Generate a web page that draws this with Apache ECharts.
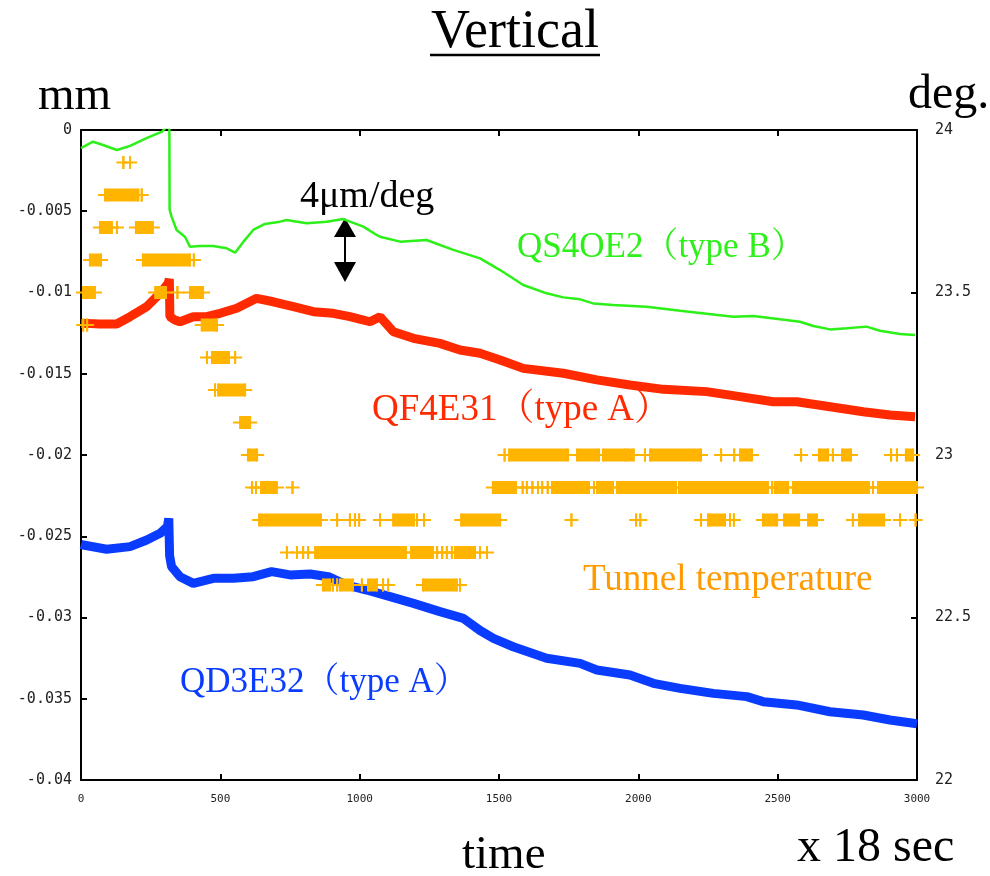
<!DOCTYPE html>
<html>
<head>
<meta charset="utf-8">
<script src="https://cdn.jsdelivr.net/npm/echarts@6/dist/echarts.min.js"></script>
<style>
  html, body { margin: 0; padding: 0; background: #fff; }
  #chart { width: 990px; height: 876px; }
</style>
</head>
<body>
<div id="chart"></div>
<script>
// ---- Tick labels ----
const leftTickLabels = ['0', '-0.005', '-0.01', '-0.015', '-0.02', '-0.025', '-0.03', '-0.035', '-0.04'];
const rightTickLabels = ['22', '22.5', '23', '23.5', '24'];
const bottomTickLabels = ['0', '500', '1000', '1500', '2000', '2500', '3000'];

// ---- QS4OE2 (type B): time (x18 sec) and vertical position (mm) ----
const qs4oe2Time = [0, 43, 79, 129, 176, 237, 291, 312, 317, 318, 325, 343, 373, 391, 427, 474, 523, 553, 583, 618, 660, 714, 738, 810, 882, 941, 1013, 1061, 1073, 1145, 1240, 1336, 1432, 1504, 1587, 1671, 1731, 1791, 1838, 1910, 2030, 2150, 2269, 2341, 2413, 2508, 2580, 2628, 2688, 2748, 2819, 2867, 2939, 2993];
const qs4oe2Mm = [-0.00111, -0.00072, -0.00092, -0.00123, -0.00098, -0.00049, -0.0001, 0.0003, 0.0005, -0.0049, -0.00533, -0.00615, -0.00657, -0.00718, -0.00714, -0.00714, -0.00728, -0.00755, -0.00687, -0.00615, -0.00578, -0.00564, -0.00554, -0.00574, -0.00564, -0.00548, -0.00595, -0.00646, -0.00657, -0.00687, -0.00677, -0.00738, -0.0079, -0.00862, -0.00954, -0.01005, -0.0103, -0.01042, -0.01067, -0.01077, -0.01087, -0.01112, -0.01135, -0.01149, -0.01145, -0.01165, -0.0118, -0.01206, -0.01227, -0.0122, -0.0121, -0.01235, -0.01255, -0.01262];

// ---- QF4E31 (type A) ----
const qf4e31Time = [0, 20, 68, 128, 176, 236, 284, 313, 317, 319, 337, 355, 403, 451, 499, 559, 630, 690, 762, 834, 905, 965, 1037, 1073, 1121, 1193, 1288, 1360, 1432, 1504, 1587, 1731, 1851, 1970, 2090, 2245, 2365, 2484, 2568, 2688, 2807, 2903, 2993];
const qf4e31Mm = [-0.0119, -0.0119, -0.01194, -0.01194, -0.01149, -0.01087, -0.01005, -0.00943, -0.00917, -0.01149, -0.01169, -0.0118, -0.01149, -0.01149, -0.01128, -0.01097, -0.01036, -0.01057, -0.01087, -0.01118, -0.01128, -0.01149, -0.0118, -0.01149, -0.01241, -0.01282, -0.01313, -0.01354, -0.01374, -0.01415, -0.01467, -0.01497, -0.01538, -0.01569, -0.01596, -0.0161, -0.01641, -0.01672, -0.01672, -0.01703, -0.01734, -0.01754, -0.01764];

// ---- QD3E32 (type A) ----
const qd3e32Time = [0, 8, 92, 176, 236, 284, 310, 315, 318, 325, 355, 403, 475, 547, 618, 684, 750, 822, 888, 953, 1025, 1109, 1193, 1288, 1372, 1432, 1480, 1551, 1671, 1791, 1851, 1970, 2054, 2150, 2269, 2389, 2448, 2568, 2688, 2807, 2903, 2987, 3000];
const qd3e32Mm = [-0.0255, -0.02554, -0.0258, -0.02564, -0.02523, -0.02482, -0.02441, -0.0239, -0.0262, -0.02687, -0.02749, -0.0279, -0.02759, -0.02759, -0.02749, -0.02718, -0.02738, -0.02732, -0.02749, -0.028, -0.02831, -0.02872, -0.02913, -0.02964, -0.03005, -0.0308, -0.03128, -0.0318, -0.03251, -0.03282, -0.03323, -0.03354, -0.03405, -0.03436, -0.03467, -0.03487, -0.03518, -0.03538, -0.0358, -0.036, -0.03631, -0.03651, -0.03655];

// ---- Tunnel temperature: runs of readings at one value [first time, last time, deg] ----
const tunnelTempRuns = [
  [152, 152, 23.9], [176, 176, 23.9],
  [86, 206, 23.8], [218, 218, 23.8],
  [68, 111, 23.7], [129, 129, 23.7], [197, 258, 23.7],
  [32, 72, 23.6], [222, 391, 23.6], [405, 405, 23.6],
  [7, 50, 23.5], [266, 305, 23.5], [346, 346, 23.5], [391, 438, 23.5],
  [8, 8, 23.4], [22, 22, 23.4], [433, 481, 23.4], [488, 488, 23.4],
  [452, 452, 23.3], [470, 531, 23.3], [553, 553, 23.3],
  [481, 481, 23.2], [492, 589, 23.2],
  [571, 607, 23.1],
  [599, 632, 23.0], [1520, 1520, 23.0], [1536, 1748, 23.0], [1780, 1859, 23.0], [1873, 1952, 23.0],
  [1959, 1984, 23.0], [2024, 2024, 23.0], [2042, 2225, 23.0], [2297, 2297, 23.0], [2344, 2344, 23.0],
  [2365, 2408, 23.0], [2584, 2584, 23.0], [2648, 2681, 23.0], [2698, 2698, 23.0], [2731, 2763, 23.0],
  [2907, 2907, 23.0], [2928, 2928, 23.0], [2960, 2986, 23.0],
  [614, 614, 22.9], [628, 628, 22.9], [646, 703, 22.9], [759, 759, 22.9],
  [1478, 1561, 22.9], [1585, 1585, 22.9], [1600, 1600, 22.9], [1620, 1620, 22.9], [1640, 1640, 22.9],
  [1655, 1655, 22.9], [1675, 1675, 22.9], [1690, 1823, 22.9], [1841, 1841, 22.9], [1852, 1909, 22.9],
  [1923, 2135, 22.9], [2146, 2465, 22.9], [2480, 2480, 22.9], [2490, 2537, 22.9], [2555, 2828, 22.9],
  [2842, 2842, 22.9], [2860, 3000, 22.9],
  [639, 861, 22.8], [919, 919, 22.8], [965, 965, 22.8], [983, 983, 22.8], [998, 998, 22.8],
  [1073, 1073, 22.8], [1120, 1195, 22.8], [1206, 1206, 22.8], [1231, 1231, 22.8], [1364, 1504, 22.8],
  [1760, 1760, 22.8], [1992, 1992, 22.8], [2007, 2007, 22.8], [2225, 2225, 22.8], [2250, 2250, 22.8],
  [2257, 2311, 22.8], [2329, 2329, 22.8], [2343, 2343, 22.8], [2447, 2498, 22.8], [2523, 2577, 22.8],
  [2609, 2641, 22.8], [2770, 2770, 22.8], [2792, 2882, 22.8], [2939, 2939, 22.8], [2995, 2995, 22.8],
  [739, 739, 22.7], [775, 775, 22.7], [797, 797, 22.7], [815, 815, 22.7], [840, 1166, 22.7],
  [1184, 1263, 22.7], [1278, 1278, 22.7], [1296, 1296, 22.7], [1313, 1313, 22.7], [1331, 1331, 22.7],
  [1342, 1414, 22.7], [1432, 1432, 22.7], [1457, 1457, 22.7],
  [868, 894, 22.6], [904, 904, 22.6], [919, 919, 22.6], [929, 976, 22.6], [1008, 1008, 22.6],
  [1030, 1062, 22.6], [1084, 1084, 22.6], [1102, 1102, 22.6], [1227, 1349, 22.6], [1360, 1360, 22.6]
];

const GREEN = '#2cf018';
const RED = '#ff2a00';
const BLUE = '#0a3cff';
const TEMP = '#ffb400';
const SERIF = '"Liberation Serif", "Times New Roman", "Noto Serif CJK JP", "Noto Sans CJK JP", serif';
const MONO = '"DejaVu Sans Mono", "Liberation Mono", monospace';

function pairs(xs, ys) { return xs.map((x, i) => [x, ys[i]]); }

// each run: filled bar between first and last reading, with '+' ends
function renderRun(params, api) {
  const t = api.value(2);
  const a = api.coord([api.value(0), t]);
  const b = api.coord([api.value(1), t]);
  const h = 13, arm = 7;
  const st = { stroke: TEMP, lineWidth: 2 };
  const children = [
    { type: 'line', shape: { x1: a[0] - arm, y1: a[1], x2: b[0] + arm, y2: b[1] }, style: st },
    { type: 'line', shape: { x1: a[0], y1: a[1] - h / 2, x2: a[0], y2: a[1] + h / 2 }, style: st },
    { type: 'line', shape: { x1: b[0], y1: b[1] - h / 2, x2: b[0], y2: b[1] + h / 2 }, style: st }
  ];
  if (b[0] - a[0] > 2) {
    children.push({ type: 'rect', shape: { x: a[0], y: a[1] - h / 2, width: b[0] - a[0], height: h }, style: { fill: TEMP } });
  }
  return { type: 'group', children };
}

const axisLine = { show: true, onZero: false, lineStyle: { color: '#000', width: 2 } };
const tickIn = { show: true, inside: true, length: 6, lineStyle: { color: '#000', width: 2 } };

const chart = echarts.init(document.getElementById('chart'));
chart.setOption({
  animation: false,
  backgroundColor: '#fff',
  grid: { left: 81, right: 73, top: 130, bottom: 96 },
  xAxis: [
    {
      type: 'value', min: 0, max: 3000, interval: 500, position: 'bottom',
      axisLine, axisTick: tickIn, splitLine: { show: false },
      axisLabel: { margin: 14, fontFamily: MONO, fontSize: 11, color: '#222',
        formatter: v => bottomTickLabels[Math.round(v / 500)] }
    },
    {
      type: 'value', min: 0, max: 3000, interval: 500, position: 'top',
      axisLine, axisTick: tickIn, splitLine: { show: false }, axisLabel: { show: false }
    }
  ],
  yAxis: [
    {
      type: 'value', min: -0.04, max: 0, interval: 0.005, position: 'left',
      axisLine, axisTick: tickIn, splitLine: { show: false },
      axisLabel: { margin: 9, fontFamily: MONO, fontSize: 15, color: '#222',
        formatter: v => leftTickLabels[Math.round(-v / 0.005)] }
    },
    {
      type: 'value', min: 22, max: 24, interval: 0.5, position: 'right',
      axisLine, axisTick: tickIn, splitLine: { show: false },
      axisLabel: { margin: 18, fontFamily: MONO, fontSize: 15, color: '#222',
        formatter: v => rightTickLabels[Math.round((v - 22) / 0.5)] }
    }
  ],
  series: [
    { name: 'QS4OE2', type: 'line', data: pairs(qs4oe2Time, qs4oe2Mm), showSymbol: false,
      lineStyle: { color: GREEN, width: 2.5 }, z: 2 },
    { name: 'QF4E31', type: 'line', data: pairs(qf4e31Time, qf4e31Mm), showSymbol: false,
      lineStyle: { color: RED, width: 9 }, z: 2 },
    { name: 'QD3E32', type: 'line', data: pairs(qd3e32Time, qd3e32Mm), showSymbol: false,
      lineStyle: { color: BLUE, width: 9 }, z: 2 },
    { name: 'Tunnel temperature', type: 'custom', yAxisIndex: 1, clip: false,
      data: tunnelTempRuns, encode: { x: [0, 1], y: 2 }, renderItem: renderRun, z: 3 }
  ],
  graphic: [
    { type: 'text', x: 515, y: 33, style: { text: 'Vertical', font: '54px ' + SERIF, fill: '#000', align: 'center', verticalAlign: 'middle' } },
    { type: 'line', shape: { x1: 430, y1: 55, x2: 600, y2: 55 }, style: { stroke: '#000', lineWidth: 2.5 } },
    { type: 'text', x: 38, y: 97, style: { text: 'mm', font: '47px ' + SERIF, fill: '#000', verticalAlign: 'middle' } },
    { type: 'text', x: 908, y: 95, style: { text: 'deg.', font: '48px ' + SERIF, fill: '#000', verticalAlign: 'middle' } },
    { type: 'text', x: 462, y: 856, style: { text: 'time', font: '47px ' + SERIF, fill: '#000', verticalAlign: 'middle' } },
    { type: 'text', x: 797, y: 848, style: { text: 'x 18 sec', font: '48px ' + SERIF, fill: '#000', verticalAlign: 'middle' } },
    { type: 'text', x: 300, y: 197, style: { text: '4μm/deg', font: '38px ' + SERIF, fill: '#000', verticalAlign: 'middle' } },
    { type: 'text', x: 517, y: 248, style: { text: 'QS4OE2（type B）', font: '35px ' + SERIF, fill: GREEN, verticalAlign: 'middle' } },
    { type: 'text', x: 372, y: 410, style: { text: 'QF4E31（type A）', font: '37px ' + SERIF, fill: RED, verticalAlign: 'middle' } },
    { type: 'text', x: 583, y: 580, style: { text: 'Tunnel temperature', font: '37px ' + SERIF, fill: '#ff9a00', verticalAlign: 'middle' } },
    { type: 'text', x: 180, y: 683, style: { text: 'QD3E32（type A）', font: '35px ' + SERIF, fill: BLUE, verticalAlign: 'middle' } },
    // double-headed arrow marking the 4 µm span
    { type: 'line', shape: { x1: 345, y1: 230, x2: 345, y2: 270 }, style: { stroke: '#000', lineWidth: 2 } },
    { type: 'polygon', shape: { points: [[345, 218], [334, 237], [356, 237]] }, style: { fill: '#000' } },
    { type: 'polygon', shape: { points: [[345, 282], [334, 262], [356, 262]] }, style: { fill: '#000' } }
  ]
});
</script>
</body>
</html>
